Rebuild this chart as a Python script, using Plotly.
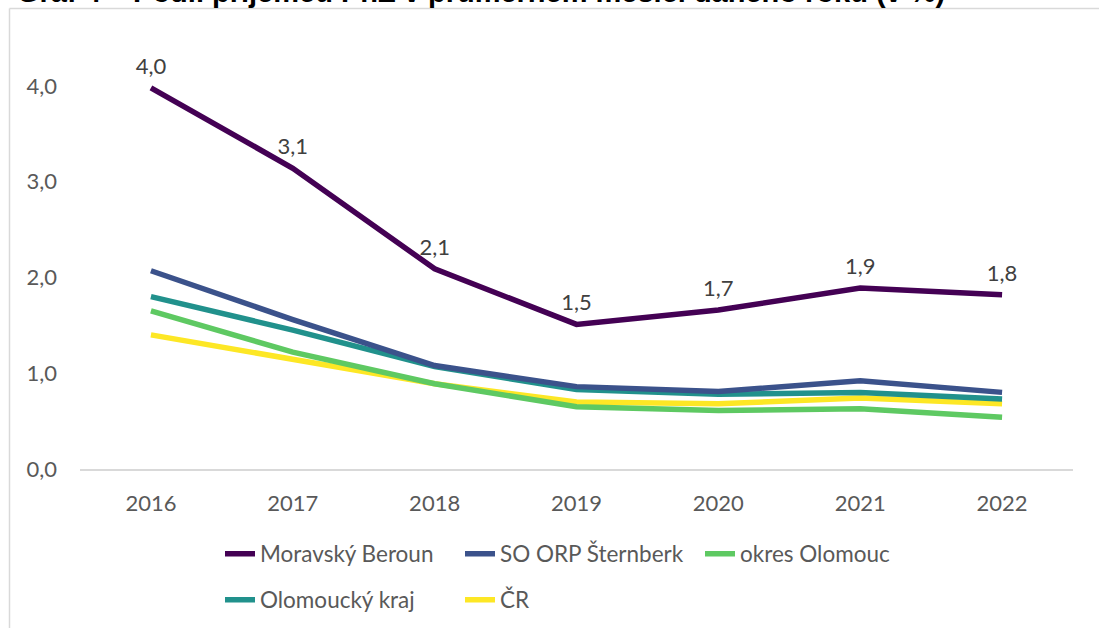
import plotly.graph_objects as go

years = ["2016", "2017", "2018", "2019", "2020", "2021", "2022"]
moravsky_beroun = [3.98, 3.14, 2.09, 1.51, 1.66, 1.89, 1.82]
so_orp_sternberk = [2.07, 1.56, 1.08, 0.86, 0.81, 0.92, 0.80]
okres_olomouc = [1.65, 1.22, 0.89, 0.65, 0.61, 0.63, 0.54]
olomoucky_kraj = [1.80, 1.45, 1.07, 0.83, 0.78, 0.80, 0.73]
cr = [1.40, 1.14, 0.89, 0.70, 0.68, 0.74, 0.68]

series = [
    ("Moravský Beroun", moravsky_beroun, "#440154", "legend"),
    ("SO ORP Šternberk", so_orp_sternberk, "#3b528b", "legend"),
    ("okres Olomouc", okres_olomouc, "#5ec962", "legend"),
    ("Olomoucký kraj", olomoucky_kraj, "#21918c", "legend2"),
    ("ČR", cr, "#fde725", "legend2"),
]

FONT = "Lato"
GREY = "#595959"

fig = go.Figure()
draw_order = [4, 2, 3, 1, 0]
for i in draw_order:
    name, vals, color, leg = series[i]
    is_main = i == 0
    fig.add_trace(go.Scatter(
        x=years, y=vals, name=name,
        mode="lines+markers+text" if is_main else "lines",
        line=dict(color=color, width=5.5),
        marker=dict(size=12, color="rgba(0,0,0,0)") if is_main else None,
        texttemplate="%{y:.1f}" if is_main else None,
        textposition="top center",
        textfont=dict(family=FONT, size=22, color="#404040"),
        legend=leg, legendrank=i,
        cliponaxis=False,
    ))

W, H = 1099, 628
L, R, T, B = 80, 26, 38, 159
pw, ph = W - L - R, H - T - B

def px_x(p):
    return (p - L) / pw

def px_y(p):
    return (H - B - p) / ph

legend_common = dict(
    orientation="h", xanchor="left", yanchor="middle",
    font=dict(family=FONT, size=22.5, color=GREY),
    bgcolor="rgba(0,0,0,0)", traceorder="normal",
    entrywidth=195, entrywidthmode="pixels",
    x=px_x(220),
)

fig.update_layout(
    width=W, height=H,
    margin=dict(l=L, r=R, t=T, b=B, autoexpand=False),
    paper_bgcolor="white", plot_bgcolor="white",
    separators=", ",
    font=dict(family=FONT, size=22, color=GREY),
    xaxis=dict(type="category", range=[-0.5, 6.5], showgrid=False,
               showline=True, linecolor="#d9d9d9", linewidth=1.5,
               ticks="", ticklabelstandoff=14, zeroline=False,
               tickfont=dict(family=FONT, size=22, color=GREY)),
    yaxis=dict(range=[0, 4.5], tickvals=[0, 1, 2, 3, 4], tickformat=".1f",
               showgrid=False, zeroline=False, showline=False, ticks="",
               ticklabelstandoff=22,
               tickfont=dict(family=FONT, size=22, color=GREY)),
    legend=dict(y=px_y(554), **legend_common),
    legend2=dict(y=px_y(600), **legend_common),
    showlegend=True,
)

# outer chart border: only top and left edges are visible in the frame
fig.add_shape(type="line", xref="paper", yref="paper",
              x0=px_x(9.5), x1=px_x(W), y0=px_y(8.5), y1=px_y(8.5),
              line=dict(color="#d9d9d9", width=1.5), layer="below")
fig.add_shape(type="line", xref="paper", yref="paper",
              x0=px_x(9.5), x1=px_x(9.5), y0=px_y(8.5), y1=px_y(H),
              line=dict(color="#d9d9d9", width=1.5), layer="below")

# chart title, cut off at the top of the page
fig.add_annotation(
    text="Graf 4 – Podíl příjemců PnZ v průměrném měsíci daného roku (v %)",
    xref="paper", yref="paper", x=px_x(15), y=px_y(10),
    xanchor="left", yanchor="bottom", showarrow=False,
    font=dict(family="Liberation Sans", size=29, color="black", weight="bold"),
)

fig.write_html("out.html", config={"displayModeBar": False},
               post_script="document.body.style.margin='0';")
